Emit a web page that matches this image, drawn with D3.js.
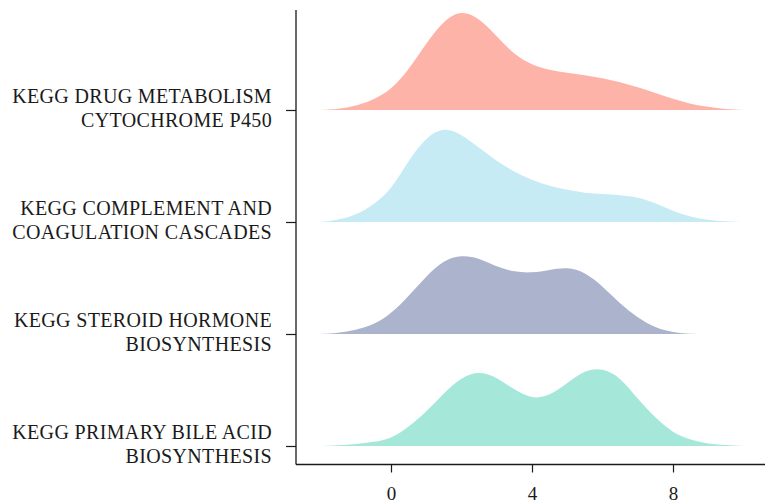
<!DOCTYPE html>
<html>
<head>
<meta charset="utf-8">
<script src="https://cdn.jsdelivr.net/npm/d3@7"></script>
<style>
  body { margin: 0; background: #fff; }
  svg text { font-family: "Liberation Serif", "DejaVu Serif", serif; fill: #1a1a1a; }
</style>
</head>
<body>
<svg id="chart" width="765" height="504"></svg>
<script>
// pathways, top to bottom
var pathways = [
    ['KEGG DRUG METABOLISM', 'CYTOCHROME P450'],
    ['KEGG COMPLEMENT AND', 'COAGULATION CASCADES'],
    ['KEGG STEROID HORMONE', 'BIOSYNTHESIS'],
    ['KEGG PRIMARY BILE ACID', 'BIOSYNTHESIS']
];
var colors = ['#feb3a8', '#c6ebf4', '#abb3cd', '#a5e8da'];
var xTicks = [0, 4, 8];

// density grid (x values) and estimated densities per pathway
var grid = [-2, -1.5, -1, -0.5, 0, 0.5, 1, 1.5, 2, 2.5, 3, 3.5, 4, 4.5, 5, 5.5, 6, 6.5, 7, 7.5, 8, 8.5, 9, 9.5, 10];
var drugDensity =       [0, 0.0025, 0.01, 0.025, 0.05, 0.1, 0.1675, 0.225, 0.25, 0.23, 0.185, 0.1375, 0.1125, 0.1, 0.0925, 0.0875, 0.08, 0.07, 0.0575, 0.0425, 0.0275, 0.015, 0.0075, 0.002, 0];
var complementDensity = [0, 0.005, 0.0175, 0.0425, 0.08, 0.155, 0.2125, 0.2375, 0.22, 0.185, 0.1525, 0.125, 0.105, 0.09, 0.08, 0.0725, 0.07, 0.0675, 0.0625, 0.0475, 0.0275, 0.0125, 0.005, 0.00125, 0];
var steroidDensity =    [0, 0.0025, 0.01, 0.0225, 0.05, 0.095, 0.145, 0.185, 0.1975, 0.19, 0.1675, 0.155, 0.1525, 0.16, 0.1675, 0.155, 0.12, 0.075, 0.04, 0.015, 0.004, 0, 0, 0, 0];
var bileDensity =       [0, 0.00125, 0.005, 0.01, 0.0175, 0.0475, 0.085, 0.1325, 0.1725, 0.1875, 0.1725, 0.14, 0.1175, 0.125, 0.1575, 0.19, 0.195, 0.1725, 0.1175, 0.07, 0.0325, 0.015, 0.005, 0.0025, 0];
var densities = [drugDensity, complementDensity, steroidDensity, bileDensity];

var svg = d3.select('#chart');

var x = d3.scaleLinear().domain([0, 8]).range([391, 673]);
var y = d3.scalePoint().domain(d3.range(pathways.length)).range([110, 446]);
var h = d3.scaleLinear().domain([0, 0.25]).range([0, 100]);

var plotLeft = 296, plotRight = 765, plotTop = 10, plotBottom = 464.5;

// ridges
densities.forEach(function(dens, i) {
    var base = y(i);
    var area = d3.area()
        .x(function(d, j) { return x(grid[j]); })
        .y0(base)
        .y1(function(d) { return base - h(d); })
        .curve(d3.curveBasis);
    svg.append('path')
        .attr('d', area(dens))
        .attr('fill', colors[i]);
});

// y axis
var yAxis = d3.axisLeft(y).tickSize(10).tickSizeOuter(0).tickFormat('');
var gy = svg.append('g').attr('transform', 'translate(' + plotLeft + ',0)').call(yAxis);
gy.select('.domain').remove();
gy.selectAll('.tick line').attr('stroke', '#1a1a1a').attr('stroke-width', 1.2);
svg.append('line')
    .attr('x1', plotLeft).attr('x2', plotLeft)
    .attr('y1', plotTop).attr('y2', plotBottom)
    .attr('stroke', '#1a1a1a').attr('stroke-width', 1.3);

// y labels
pathways.forEach(function(lines, i) {
    var t = svg.append('text')
        .attr('text-anchor', 'end')
        .attr('font-size', 20)
        .attr('letter-spacing', 0.35);
    t.append('tspan').attr('x', 272).attr('y', y(i) - 7).text(lines[0]);
    t.append('tspan').attr('x', 272).attr('y', y(i) + 17).text(lines[1]);
});

// x axis
var xAxis = d3.axisBottom(x).tickValues(xTicks).tickSize(8).tickSizeOuter(0).tickPadding(14);
var gx = svg.append('g').attr('transform', 'translate(0,' + plotBottom + ')').call(xAxis);
gx.select('.domain').remove();
gx.selectAll('.tick line').attr('stroke', '#1a1a1a').attr('stroke-width', 1.2);
gx.selectAll('.tick text')
    .attr('font-size', 19)
    .attr('font-family', '"Liberation Serif", "DejaVu Serif", serif')
    .attr('fill', '#1a1a1a');
svg.append('line')
    .attr('x1', plotLeft).attr('x2', plotRight)
    .attr('y1', plotBottom).attr('y2', plotBottom)
    .attr('stroke', '#1a1a1a').attr('stroke-width', 1.3);
</script>
</body>
</html>
